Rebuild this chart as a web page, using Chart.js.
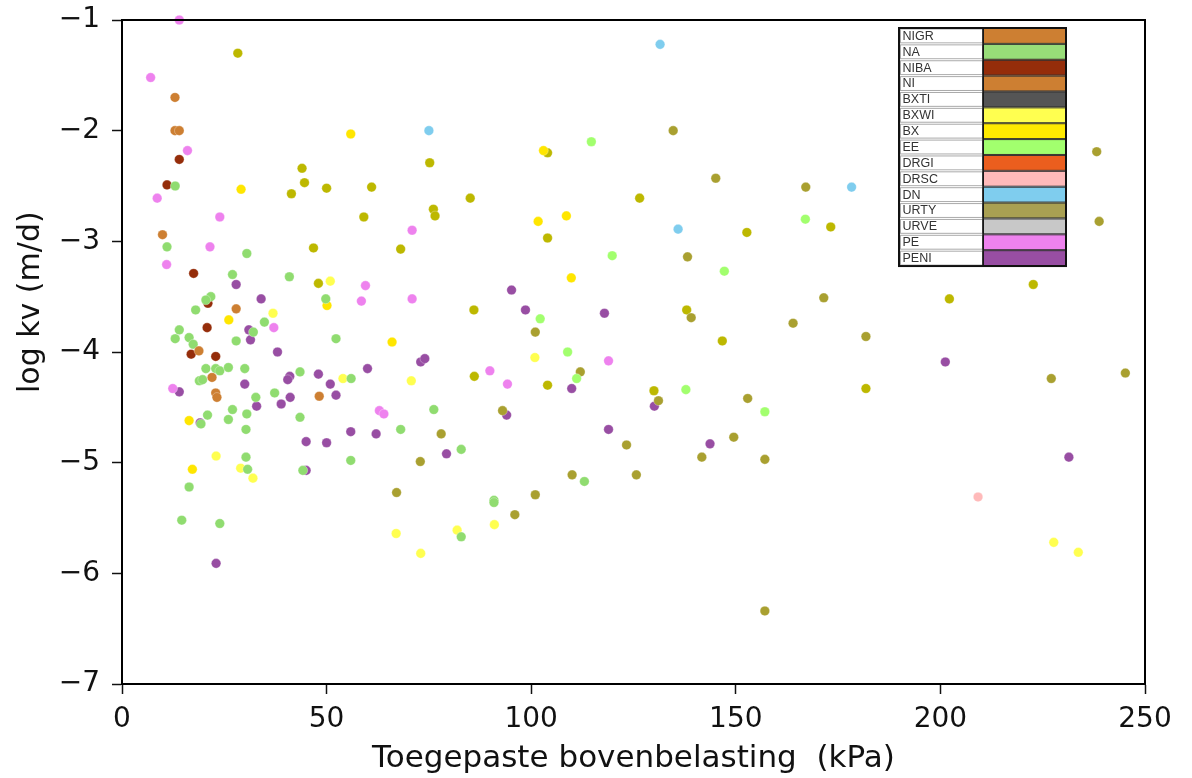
<!DOCTYPE html>
<html>
<head>
<meta charset="utf-8">
<script src="https://cdn.jsdelivr.net/npm/chart.js@4"></script>
<style>
  html, body { margin: 0; padding: 0; background: #fff; }
  canvas { display: block; }
</style>
</head>
<body>
<canvas id="kvChart" width="1192" height="778"></canvas>
<script>
// legend table entries (name + swatch colour)
const legendNames = ['NIGR', 'NA', 'NIBA', 'NI', 'BXTI', 'BXWI', 'BX', 'EE', 'DRGI', 'DRSC', 'DN', 'URTY', 'URVE', 'PE', 'PENI'];
const legendColors = ['#cd7f32', '#98dd78', '#952d0a', '#cd7f32', '#555555', '#ffff50', '#ffea00', '#a2ff6e', '#eb5e1e', '#ffbaba', '#7fcdee', '#a9a052', '#c8c8c8', '#ee82ee', '#984ea3'];

const xTicks = [0, 50, 100, 150, 200, 250];
const yTicks = [-7, -6, -5, -4, -3, -2, -1];

// series: [x, y] pairs
const nigr = [[12.95,-1.70],[12.95,-2.0],[14.0,-2.0],[9.9,-2.94],[27.9,-3.61],[18.8,-3.99],[22.0,-4.23],[22.9,-4.37],[23.2,-4.41],[48.2,-4.40]];
const niba = [[14.0,-2.26],[11.0,-2.49],[17.5,-3.29],[21.0,-3.56],[20.8,-3.78],[16.9,-4.02],[22.9,-4.04]];
const na = [[13.0,-2.50],[11.0,-3.05],[30.5,-3.11],[27.0,-3.30],[40.9,-3.32],[21.7,-3.50],[20.5,-3.53],[49.8,-3.52],[18.0,-3.62],[34.8,-3.73],
  [14.0,-3.80],[32.1,-3.82],[13.0,-3.88],[16.4,-3.87],[17.4,-3.93],[27.9,-3.90],[52.3,-3.88],[20.5,-4.15],[22.9,-4.15],[23.9,-4.17],
  [26.0,-4.14],[30.0,-4.15],[43.5,-4.18],[56.0,-4.24],[18.9,-4.26],[19.7,-4.25],[32.7,-4.41],[37.3,-4.37],[20.9,-4.57],[27.0,-4.52],
  [30.5,-4.56],[26.0,-4.61],[43.5,-4.59],[19.3,-4.65],[30.3,-4.70],[55.9,-4.98],[30.3,-4.95],[30.7,-5.06],[44.2,-5.07],[16.4,-5.22],
  [14.6,-5.52],[23.9,-5.55],[76.2,-4.52],[68.1,-4.70],[82.9,-4.88],[113.0,-5.17],[90.9,-5.34],[90.9,-5.36],[82.9,-5.67]];
const ee = [[114.7,-2.10],[119.8,-3.13],[147.2,-3.27],[102.2,-3.70],[108.9,-4.00],[111.1,-4.24],[137.8,-4.34],[157.1,-4.54],[167.0,-2.80]];
const bx = [[29.1,-2.53],[55.9,-2.03],[50.1,-3.58],[26.1,-3.71],[16.4,-4.62],[17.2,-5.06],[103.0,-2.18],[101.7,-2.82],[108.6,-2.77],[109.8,-3.33],[66.0,-3.91]];
const bxwi = [[50.9,-3.36],[36.9,-3.65],[54.0,-4.24],[23.0,-4.94],[29.0,-5.05],[32.0,-5.14],[100.9,-4.05],[70.7,-4.26],[67.0,-5.64],[81.9,-5.61],
  [91.0,-5.56],[73.0,-5.82],[227.7,-5.72],[233.7,-5.81]];
const peni = [[27.9,-3.39],[34.0,-3.52],[31.0,-3.80],[31.4,-3.89],[38.0,-4.00],[41.0,-4.22],[40.5,-4.25],[48.0,-4.20],[50.9,-4.29],[60.0,-4.15],
  [14.0,-4.36],[30.0,-4.29],[41.1,-4.41],[38.9,-4.47],[52.3,-4.39],[32.9,-4.49],[19.1,-4.64],[45.0,-4.81],[50.0,-4.82],[55.9,-4.72],
  [62.1,-4.74],[45.0,-5.07],[23.0,-5.91],[73.0,-4.09],[74.0,-4.06],[95.2,-3.44],[98.6,-3.62],[117.9,-3.65],[109.9,-4.33],[130.1,-4.49],
  [94.0,-4.57],[79.3,-4.92],[118.9,-4.70],[143.7,-4.83],[201.2,-4.09],[231.4,-4.95]];
const pe = [[14.0,-1.0],[7.0,-1.52],[16.0,-2.18],[8.6,-2.61],[23.9,-2.78],[21.5,-3.05],[10.9,-3.21],[59.5,-3.40],[58.5,-3.54],[37.1,-3.78],
  [12.4,-4.33],[62.9,-4.53],[64.0,-4.56],[70.9,-2.90],[70.9,-3.52],[89.9,-4.17],[94.2,-4.29],[118.9,-4.08]];
const drsc = [[209.2,-5.31]];
const dn = [[131.5,-1.22],[75.0,-2.0],[135.9,-2.89],[178.3,-2.51]];
const urty = [[134.7,-2.0],[145.1,-2.43],[138.2,-3.14],[139.1,-3.69],[101.0,-3.82],[112.0,-4.18],[131.1,-4.44],[152.9,-4.42],[78.0,-4.74],[93.0,-4.53],
  [72.9,-4.99],[123.3,-4.84],[110.0,-5.11],[125.7,-5.11],[149.5,-4.77],[141.7,-4.95],[157.1,-4.97],[67.1,-5.27],[101.0,-5.29],[96.0,-5.47],
  [157.1,-6.34],[167.1,-2.51],[238.2,-2.19],[238.8,-2.82],[171.5,-3.51],[164.0,-3.74],[181.8,-3.86],[227.1,-4.24],[245.2,-4.19]];
// olive points that have no row in the legend table
const overig = [[28.3,-1.30],[44.0,-2.34],[44.6,-2.47],[41.4,-2.57],[50.0,-2.52],[61.0,-2.51],[59.1,-2.78],[46.8,-3.06],[48.0,-3.38],[75.2,-2.29],
  [85.1,-2.61],[76.1,-2.71],[76.5,-2.77],[68.1,-3.07],[104.0,-2.20],[126.5,-2.61],[104.0,-2.97],[152.7,-2.92],[86.0,-3.62],[138.0,-3.62],
  [146.7,-3.90],[86.1,-4.22],[104.0,-4.30],[130.0,-4.35],[173.2,-2.87],[202.2,-3.52],[222.7,-3.39],[181.8,-4.33]];

const series = [
  { label: 'NIGR', data: nigr, color: '#cd7f32' },
  { label: 'NA', data: na, color: '#90dc70' },
  { label: 'NIBA', data: niba, color: '#952d0a' },
  { label: 'BXWI', data: bxwi, color: '#ffff50' },
  { label: 'BX', data: bx, color: '#ffe600' },
  { label: 'EE', data: ee, color: '#a2ff6e' },
  { label: 'DRSC', data: drsc, color: '#ffbaba' },
  { label: 'DN', data: dn, color: '#7fcdee' },
  { label: 'URTY', data: urty, color: '#a9a030' },
  { label: 'overig', data: overig, color: '#bdb800' },
  { label: 'PE', data: pe, color: '#ee82ee' },
  { label: 'PENI', data: peni, color: '#984ea3' }
];

const fontFam = "'DejaVu Sans', sans-serif";
const yTitle = 'log kv (m/d)';

// frame, y title and table legend drawn on top
const framePlugin = {
  id: 'frame',
  afterDraw(chart) {
    const { ctx, chartArea: a } = chart;
    ctx.save();
    ctx.strokeStyle = '#000';
    ctx.lineWidth = 2;
    ctx.strokeRect(a.left, a.top, a.right - a.left, a.bottom - a.top);

    // y title (sits a bit above the middle in the original)
    ctx.save();
    ctx.translate(31, a.top + (a.bottom - a.top) * 0.425);
    ctx.rotate(-Math.PI / 2);
    ctx.font = "30px " + fontFam;
    ctx.fillStyle = '#111';
    ctx.textAlign = 'center';
    ctx.textBaseline = 'middle';
    ctx.fillText(yTitle, 0, 0);
    ctx.restore();

    // legend table
    const w = 167, rowH = 15.87, labW = 84;
    const lx = a.right - 246, ly = a.top + 8;
    ctx.font = "12.5px 'Liberation Sans', Arial, sans-serif";
    ctx.textBaseline = 'middle';
    legendNames.forEach((name, i) => {
      const y = ly + i * rowH;
      ctx.fillStyle = '#fff';
      ctx.fillRect(lx, y, labW, rowH);
      ctx.strokeStyle = '#aaa';
      ctx.lineWidth = 1;
      ctx.strokeRect(lx + 1.5, y + 1, labW - 2, rowH - 2);
      ctx.fillStyle = '#333';
      ctx.fillText(name, lx + 3.5, y + rowH / 2 + 0.5);
      ctx.fillStyle = legendColors[i];
      ctx.fillRect(lx + labW, y, w - labW, rowH);
      ctx.strokeStyle = '#333';
      ctx.strokeRect(lx + labW + 0.5, y + 0.5, w - labW - 1, rowH - 1);
    });
    ctx.strokeStyle = '#111';
    ctx.lineWidth = 2;
    ctx.strokeRect(lx, ly, w, rowH * legendNames.length);
    ctx.beginPath();
    ctx.moveTo(lx + labW, ly);
    ctx.lineTo(lx + labW, ly + rowH * legendNames.length);
    ctx.lineWidth = 1.5;
    ctx.stroke();
    ctx.restore();
  }
};

new Chart(document.getElementById('kvChart'), {
  type: 'scatter',
  data: {
    datasets: series.map(s => ({
      label: s.label,
      data: s.data.map(p => ({ x: p[0], y: p[1] })),
      backgroundColor: s.color,
      borderColor: 'rgba(255,255,255,0.6)',
      borderWidth: 0.5,
      pointRadius: 4.8,
      clip: false
    }))
  },
  options: {
    responsive: false,
    animation: false,
    devicePixelRatio: 1,
    layout: { padding: { top: 20, right: 47, left: 0, bottom: 0 } },
    plugins: { legend: { display: false }, tooltip: { enabled: false } },
    scales: {
      x: {
        type: 'linear', min: 0, max: 250,
        afterFit: s => { s.height = 94; s.paddingLeft = 0; s.paddingRight = 0; },
        afterBuildTicks: s => { s.ticks = xTicks.map(v => ({ value: v })); },
        ticks: { font: { family: fontFam, size: 28 }, color: '#111', padding: 9, maxRotation: 0 },
        grid: { drawOnChartArea: false, tickLength: 10, tickColor: '#111', tickWidth: 1.5 },
        border: { color: '#000', width: 2 },
        title: { display: true, text: 'Toegepaste bovenbelasting  (kPa)', font: { family: fontFam, size: 31 }, color: '#111', padding: { top: 0, bottom: 0 } }
      },
      y: {
        type: 'linear', min: -7, max: -1,
        afterFit: s => { s.width = 122; s.paddingTop = 0; s.paddingBottom = 0; },
        afterBuildTicks: s => { s.ticks = yTicks.map(v => ({ value: v })); },
        ticks: { font: { family: fontFam, size: 28 }, color: '#111', padding: 12, callback: v => String(v).replace('-', '\u2212') },
        grid: { drawOnChartArea: false, tickLength: 10, tickColor: '#111', tickWidth: 1.5 },
        border: { color: '#000', width: 2 }
      }
    }
  },
  plugins: [framePlugin]
});
</script>
</body>
</html>
